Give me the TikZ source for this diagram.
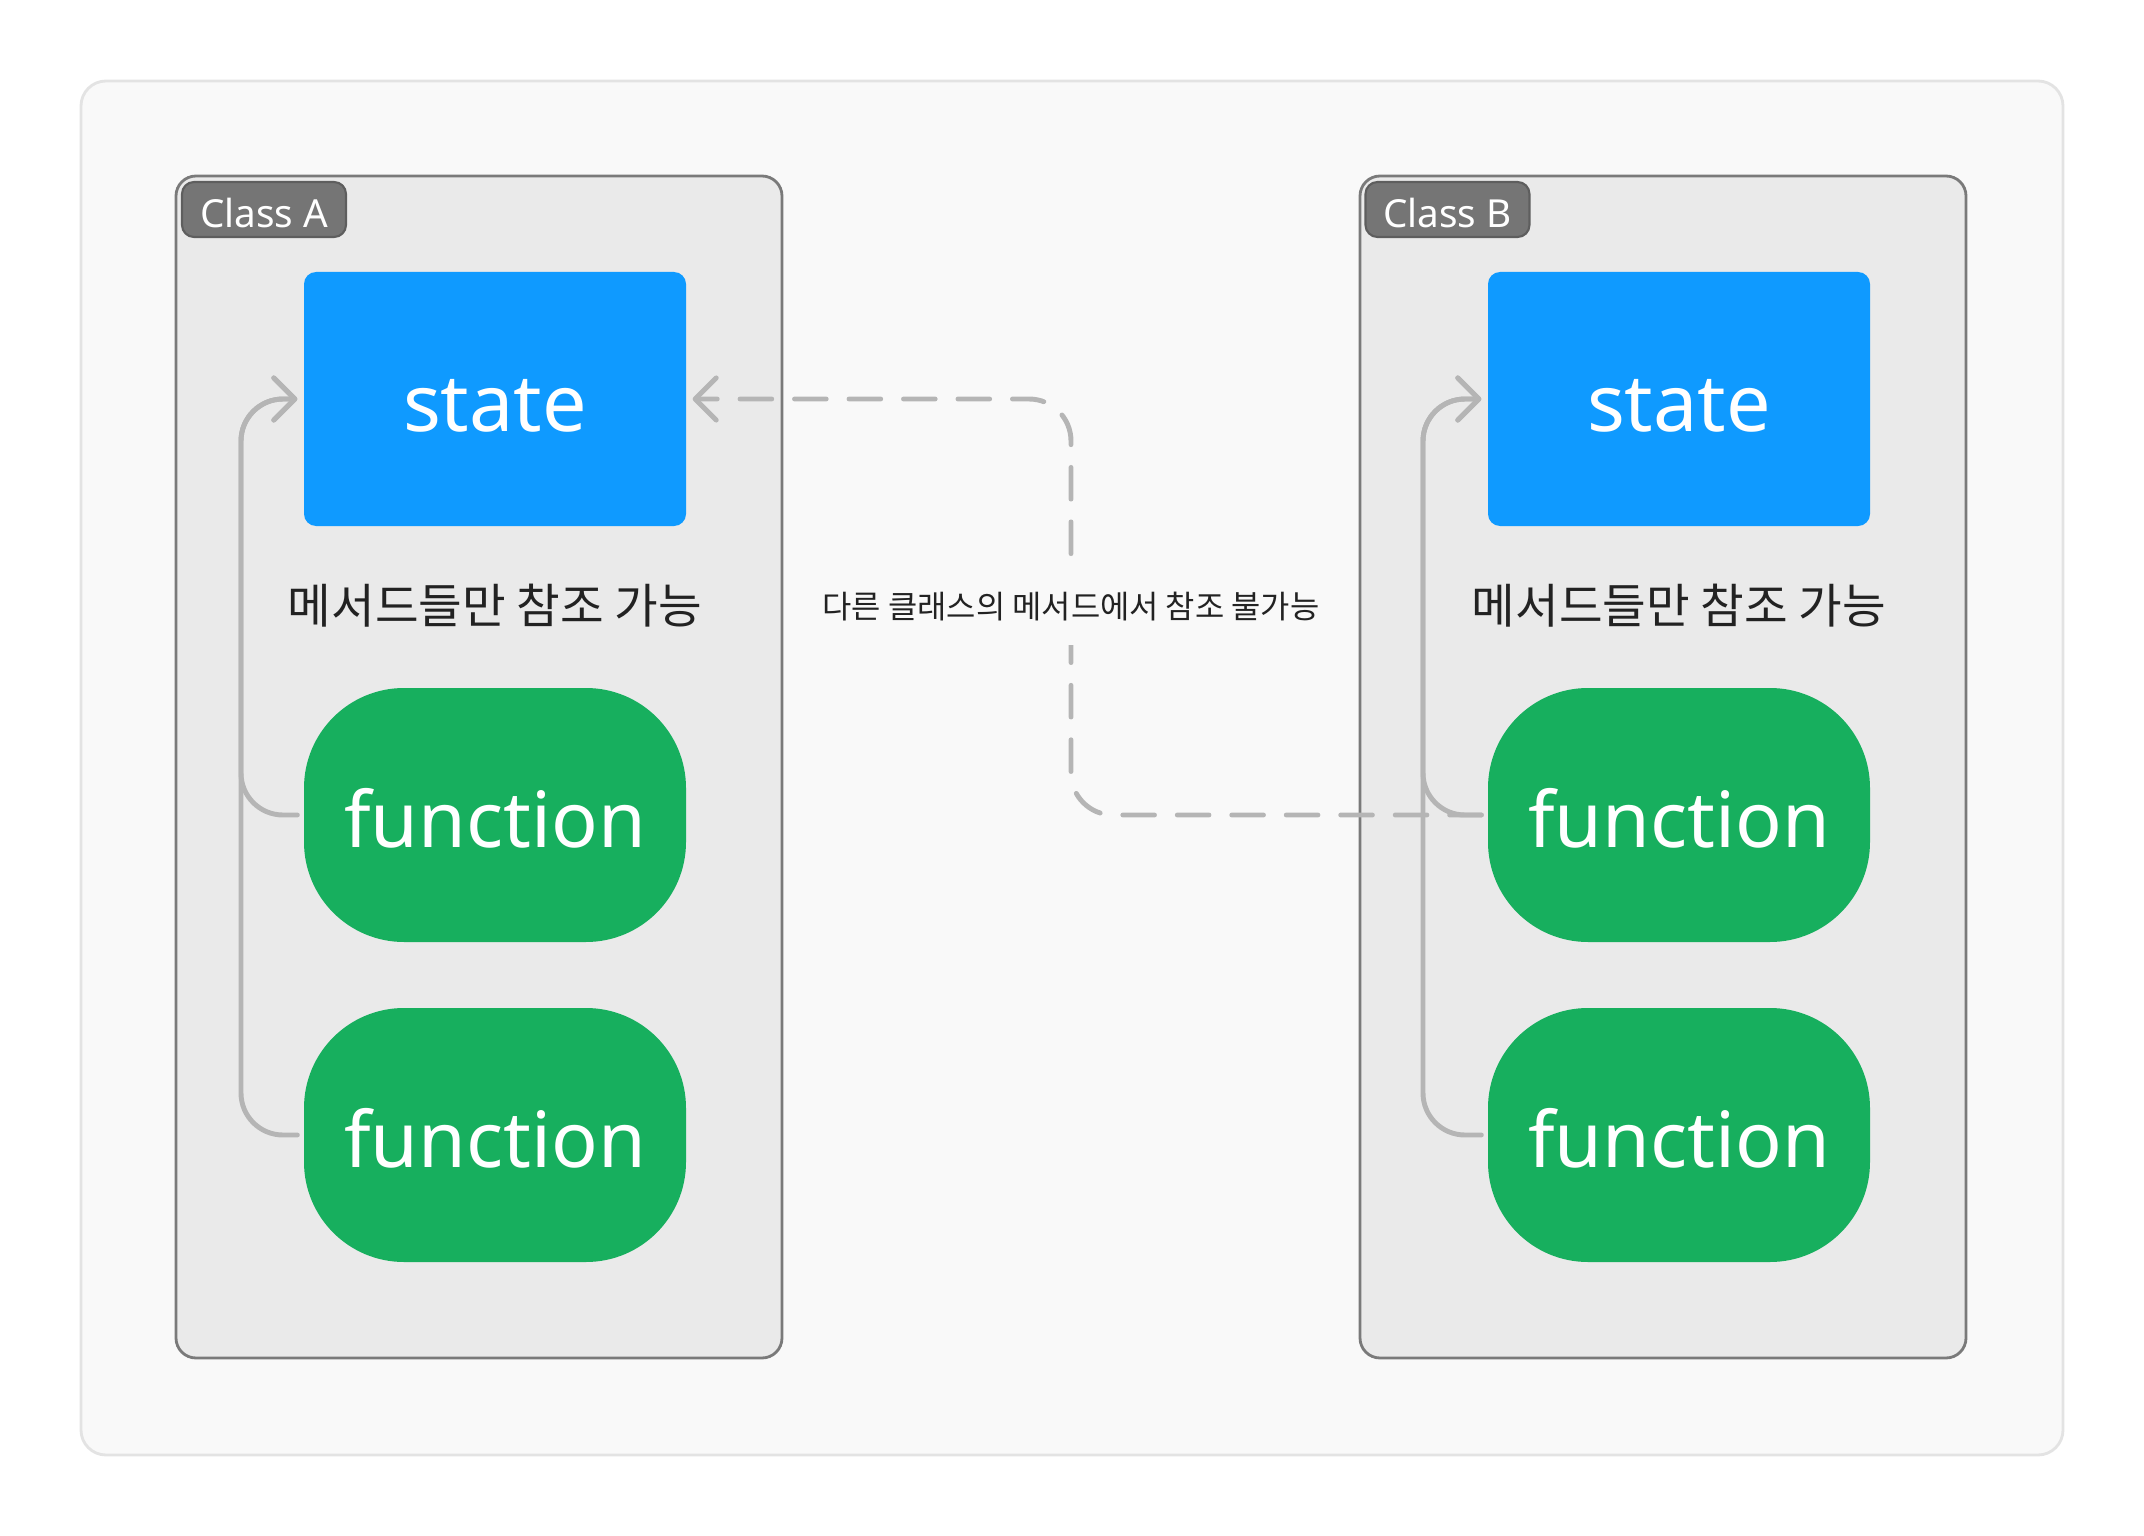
\documentclass[tikz,border=0pt]{standalone}
\usepackage{fontspec}
\setmainfont{Noto Sans}
\newfontfamily\krfont{Noto Sans CJK KR}
\usetikzlibrary{arrows.meta,calc}
\definecolor{bgc}{HTML}{F9F9F9}
\definecolor{bgborder}{HTML}{E3E3E3}
\definecolor{framefill}{HTML}{EAEAEA}
\definecolor{framedraw}{HTML}{7A7A7A}
\definecolor{tagfill}{HTML}{757575}
\definecolor{tagdraw}{HTML}{5E5E5E}
\definecolor{stateblue}{HTML}{0F9AFF}
\definecolor{funcgreen}{HTML}{17AF5E}
\definecolor{conncol}{HTML}{B5B5B5}
\definecolor{txtdark}{HTML}{222222}
\newcommand{\lowertext}[2]{\raisebox{-#1}[\height][\depth]{#2}}
\tikzset{
  outerpanel/.style={draw=bgborder, fill=bgc, rounded corners=0.25cm, line width=0.8pt, minimum width=19.82cm, minimum height=13.74cm, inner sep=0},
  classframe/.style={draw=framedraw, fill=framefill, rounded corners=0.2cm, line width=0.8pt, minimum width=6.06cm, minimum height=11.82cm, inner sep=0},
  classtag/.style={draw=tagdraw, fill=tagfill, rounded corners=0.12cm, text=white, font=\fontsize{11}{13}\selectfont, minimum width=1.64cm, minimum height=0.55cm, inner sep=0, line width=0.6pt},
  statebox/.style={fill=stateblue, rounded corners=0.12cm, minimum width=3.82cm, minimum height=2.54cm, text=white, font=\fontsize{22.5}{26}\selectfont, inner sep=0},
  funcbox/.style={fill=funcgreen, rounded corners=1cm, minimum width=3.82cm, minimum height=2.54cm, text=white, font=\fontsize{22}{26}\selectfont, inner sep=0},
  notetext/.style={text=txtdark, font=\krfont\fontsize{13.5}{16}\selectfont, inner sep=0},
  midtext/.style={text=txtdark, font=\krfont\fontsize{9.05}{11}\selectfont, fill=bgc, inner sep=3pt, minimum height=0.75cm},
  conn/.style={draw=conncol, line width=1.4pt, line cap=round, line join=round, rounded corners=0.42cm, -{Straight Barb[length=6pt,width=12pt,line cap=round,line join=round]}, shorten <=1.7pt, shorten >=1.7pt},
  dconn/.style={conn, dash pattern=on 9pt off 6.5pt}
}
\begin{document}
\begin{tikzpicture}
\useasboundingbox (0,0) rectangle (21.44,-15.36);
\fill[white] (0,0) rectangle (21.44,-15.36);
\node[outerpanel] (panel) at (10.72,-7.68) {};
% Class A
\node[classframe] (frameA) at (4.79,-7.67) {};
\node[classtag] (tagA) at (2.64,-2.095) {\lowertext{1.1pt}{Class A}};
\node[statebox] (sa) at (4.95,-3.99) {\lowertext{2pt}{state}};
\node[notetext] (na) at (4.95,-6.06) {메서드들만 참조 가능};
\node[funcbox] (fa1) at (4.95,-8.15) {\lowertext{1pt}{function}};
\node[funcbox] (fa2) at (4.95,-11.35) {\lowertext{1pt}{function}};
% Class B
\node[classframe] (frameB) at (16.63,-7.67) {};
\node[classtag] (tagB) at (14.475,-2.095) {\lowertext{1.1pt}{Class B}};
\node[statebox] (sb) at (16.79,-3.99) {\lowertext{2pt}{state}};
\node[notetext] (nb) at (16.79,-6.06) {메서드들만 참조 가능};
\node[funcbox] (fb1) at (16.79,-8.15) {\lowertext{1pt}{function}};
\node[funcbox] (fb2) at (16.79,-11.35) {\lowertext{1pt}{function}};
% helper coordinates
\coordinate (va) at (2.41,0);
\coordinate (vb) at (14.23,0);
\coordinate (vd) at (10.71,0);
% connectors inside A
\draw[conn] (fa2.west) -- (fa2.west -| va) -- (sa.west -| va) -- (sa.west);
\draw[conn] (fa1.west) -- (fa1.west -| va) -- (sa.west -| va) -- (sa.west);
% connectors inside B
\draw[conn] (fb2.west) -- (fb2.west -| vb) -- (sb.west -| vb) -- (sb.west);
\draw[conn] (fb1.west) -- (fb1.west -| vb) -- (sb.west -| vb) -- (sb.west);
% cross-class dashed connector
\draw[dconn] (fb1.west) -- (fb1.west -| vd) -- (sa.east -| vd) -- (sa.east);
\node[midtext] (lbl) at ($(sa.east -| vd)!0.5!(fb1.west -| vd)$) {다른 클래스의 메서드에서 참조 불가능};
\end{tikzpicture}
\end{document}
